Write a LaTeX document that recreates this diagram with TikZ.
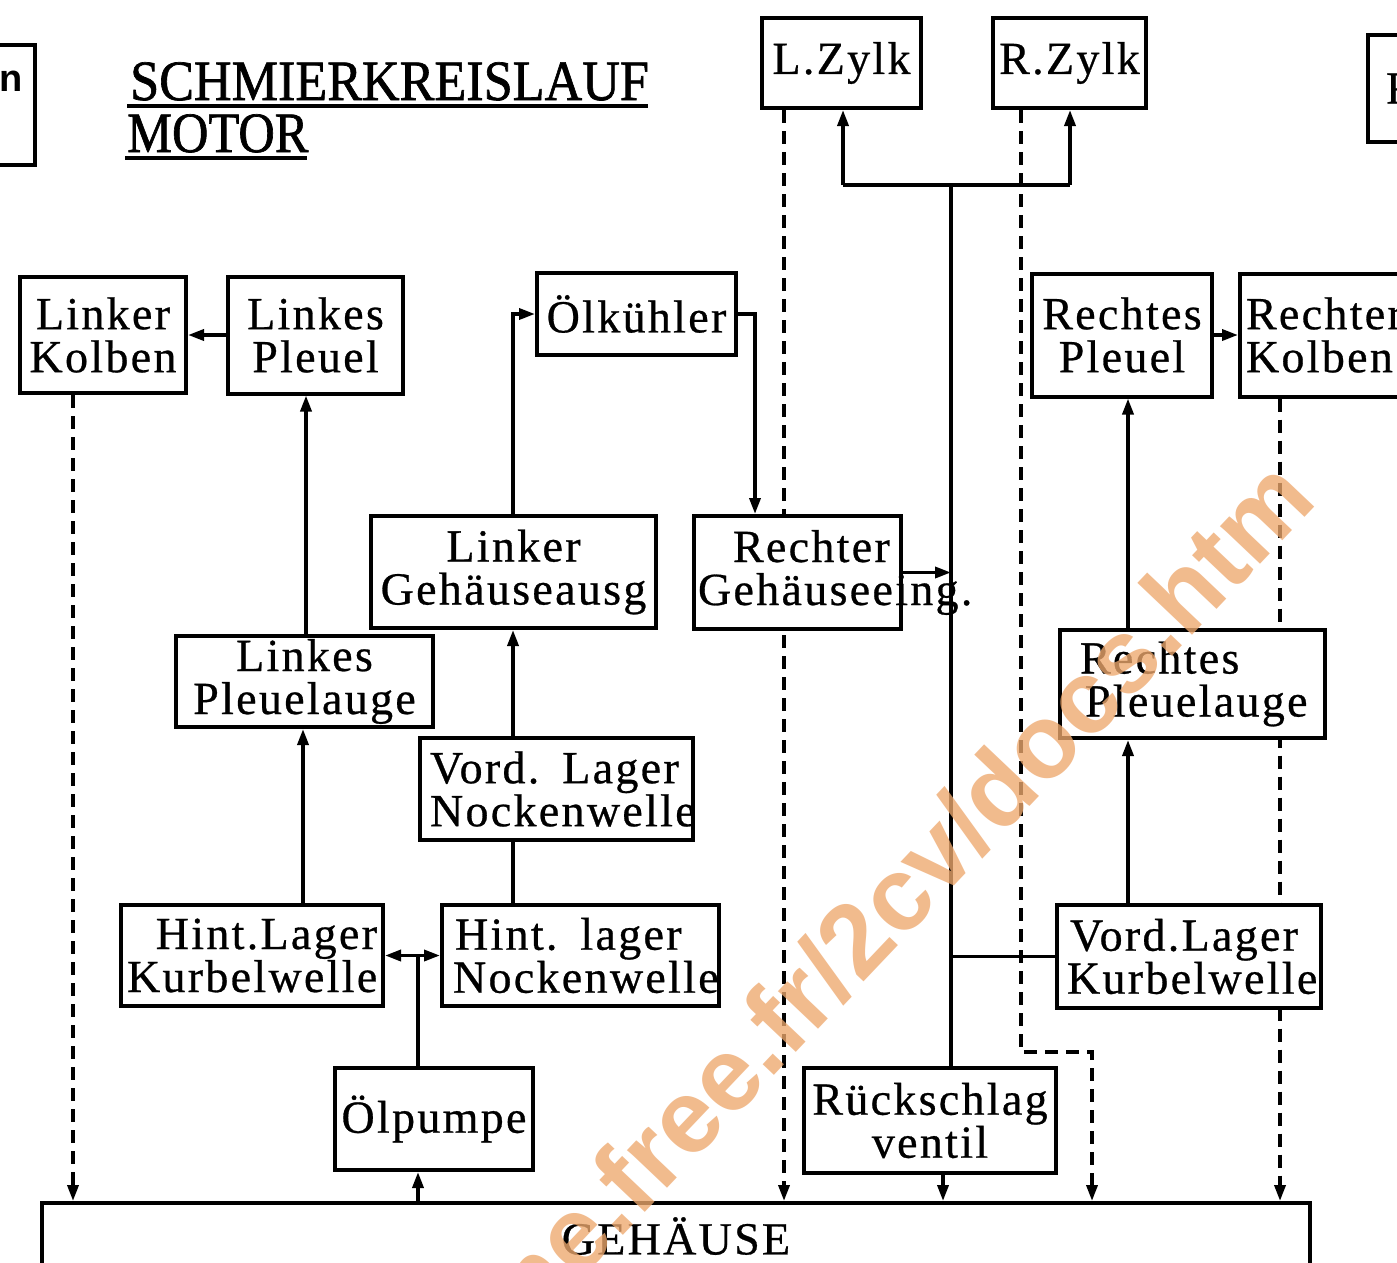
\documentclass[tikz,border=0pt]{standalone}
\usepackage{fontspec}
\setmainfont{Liberation Serif}[LetterSpace=5,FakeBold=0.6]
\newfontfamily\titlefont{Liberation Serif}[FakeBold=1.2]
\newfontfamily\wmfont{Liberation Sans}
\usetikzlibrary{arrows.meta}
\pgfdeclarelayer{bg}
\pgfsetlayers{bg,main}
\definecolor{wmc}{RGB}{238,168,110}
\hyphenpenalty=10000
\exhyphenpenalty=10000
\tikzset{
  box/.style={draw, line width=4pt, fill=white, inner xsep=6pt, inner ysep=0pt,
              font=\fontsize{46}{43}\selectfont},
  conn/.style={line width=3.5pt},
  arr/.style={conn, -{Triangle[length=16pt,width=11pt]}},
  dconn/.style={conn, dash pattern=on 13pt off 8pt},
  darr/.style={dconn, -{Triangle[length=16pt,width=11pt]}},
  ttl/.style={inner sep=0pt, font=\titlefont\fontsize{57}{57}\selectfont, anchor=base west},
}
\begin{document}
\begin{tikzpicture}[x=1pt,y=-1pt]
\useasboundingbox (0,0) rectangle (1397,1263);
\clip (0,0) rectangle (1397,1263);

% title
\node[ttl] (t1) at (130,100) {\scalebox{0.915}[1]{SCHMIERKREISLAUF}};
\node[ttl] (t2) at (127,152) {\scalebox{0.885}[1]{MOTOR}};
\draw[line width=4pt] (127,106) -- (648,106);
\draw[line width=4pt] (125,158) -- (307,158);

% partial boxes at the edges
\node[box, minimum width=95pt, minimum height=120pt] (PL) at (-12.5,105) {};
\node[inner sep=0pt, anchor=base east, font=\wmfont\bfseries\fontsize{38}{38}\selectfont] (PLt) at (23,92) {n};
\node[box, text width=80pt, minimum height=107pt, align=left] (PR) at (1414,88.5) {\hspace*{12pt}R};

% boxes
\node[box, text width=147pt, minimum height=90pt, align=center] (LZ) at (841.5,63) {L.Zylk};
\node[box, text width=141pt, minimum height=90pt, align=center] (RZ) at (1069.5,63) {R.Zylk};

\node[box, text width=154pt, minimum height=116pt, align=center] (LK) at (103,335) {Linker\\Kolben};
\node[box, text width=163pt, minimum height=117pt, align=center] (LP) at (315.5,335) {Linkes\\Pleuel};
\node[box, text width=187pt, minimum height=82pt, align=center] (OK) at (636.5,314) {Ölkühler};
\node[box, text width=168pt, minimum height=123pt, align=center] (RP) at (1122,335) {Rechtes\\Pleuel};
\node[box, text width=188pt, minimum height=123pt, align=left] (RK) at (1340,335) {Rechter\\Kolben};

\node[box, text width=273pt, minimum height=112pt, align=center] (LGA) at (513.5,572) {Linker\\Gehäuseausg};
\node[box, text width=195pt, minimum height=113pt, align=left] (RGE) at (797.5,572.5) {\hspace*{33pt}Rechter\\\rlap{\hspace*{-2pt}Gehäuseeing.}};

\node[box, text width=245pt, minimum height=91pt, align=center] (LPA) at (304.5,681.5) {Linkes\\Pleuelauge};
\node[box, text width=253pt, minimum height=108pt, align=left] (RPA) at (1192.5,684) {\hspace*{14pt}Rechtes\\\hspace*{19pt}Pleuelauge};

\node[box, text width=261pt, minimum height=102pt, align=left] (VLN) at (556.5,789) {\hspace*{4pt}Vord. Lager\\\hspace*{4pt}Nockenwelle};

\node[box, text width=250pt, minimum height=101pt, align=right] (HLK) at (252,955.5) {Hint.Lager\\Kurbelwelle};
\node[box, text width=265pt, minimum height=101pt, align=left] (HLN) at (580.5,955.5) {\hspace*{7pt}Hint. lager\\\hspace*{5pt}Nockenwelle};
\node[box, text width=252pt, minimum height=103pt, align=left] (VLK) at (1189,956.5) {\hspace*{7pt}Vord.Lager\\\hspace*{4pt}Kurbelwelle};

\node[box, text width=186pt, minimum height=102pt, align=center] (OP) at (434,1119) {Ölpumpe};
\node[box, text width=240pt, minimum height=105pt, align=center] (RV) at (930,1120.5) {Rückschlag\\ventil};

\node[box, text width=1256pt, minimum height=66pt, align=center] (GH) at (676,1236) {GEHÄUSE};

% column / row coordinates
\coordinate (c73) at (73,0);
\coordinate (c303) at (303,0);
\coordinate (c306) at (306,0);
\coordinate (cP) at (418,0);
\coordinate (cA) at (513,0);
\coordinate (cB) at (755,0);
\coordinate (c784) at (784,0);
\coordinate (cR) at (943,0);
\coordinate (cV) at (951,0);
\coordinate (c1021) at (1021,0);
\coordinate (c1092) at (1092,0);
\coordinate (cQ) at (1128,0);
\coordinate (c1280) at (1280,0);
\coordinate (jT) at (0,185);
\coordinate (jL) at (843,185);
\coordinate (jR) at (1070,185);
\coordinate (dY) at (0,1052);

\begin{pgfonlayer}{bg}
\fill[white] (0,0) rectangle (1397,1263);
% dashed return lines
\draw[darr] (LK.south -| c73) -- (GH.north -| c73);
\draw[darr] (LZ.south -| c784) -- (GH.north -| c784);
\draw[darr] (RZ.south -| c1021) -- (c1021 |- dY) -- (c1092 |- dY) -- (GH.north -| c1092);
\draw[darr] (RK.south -| c1280) -- (GH.north -| c1280);

% pump and left side
\draw[arr] (GH.north -| cP) -- (OP.south -| cP);
\draw[conn] (OP.north -| cP) -- (cP |- HLK.east);
\draw[arr] (cP |- HLK.east) -- (HLK.east);
\draw[arr] (cP |- HLN.west) -- (HLN.west);
\draw[arr] (HLK.north -| c303) -- (LPA.south -| c303);
\draw[arr] (LPA.north -| c306) -- (LP.south -| c306);
\draw[arr] (LP.west) -- (LP.west -| LK.east);
\draw[conn] (HLN.north -| cA) -- (VLN.south -| cA);
\draw[arr] (VLN.north -| cA) -- (LGA.south -| cA);
\draw[arr] (LGA.north -| cA) |- (OK.west);
\draw[arr] (OK.east) -| (RGE.north -| cB);

% main riser
\draw[arr] (RGE.east) -- (RGE.east -| cV);
\draw[conn] (RV.north -| cV) -- (cV |- jT);
\draw[conn] (jL) -- (jR);
\draw[arr] (jL) -- (LZ.south -| jL);
\draw[arr] (jR) -- (RZ.south -| jR);
\draw[conn] (VLK.west) -- (VLK.west -| cV);
\draw[arr] (RV.south -| cR) -- (GH.north -| cR);

% right side
\draw[arr] (VLK.north -| cQ) -- (RPA.south -| cQ);
\draw[arr] (RPA.north -| cQ) -- (RP.south -| cQ);
\draw[arr] (RP.east) -- (RP.east -| RK.west);
\end{pgfonlayer}

% watermark
\node[inner sep=0pt, anchor=base east, rotate=46.5, text=wmc, opacity=0.78,
      font=\wmfont\bfseries\fontsize{104}{104}\selectfont] (wm) at (1319,502) {me.free.fr/2cv/docs.htm};
\end{tikzpicture}
\end{document}
